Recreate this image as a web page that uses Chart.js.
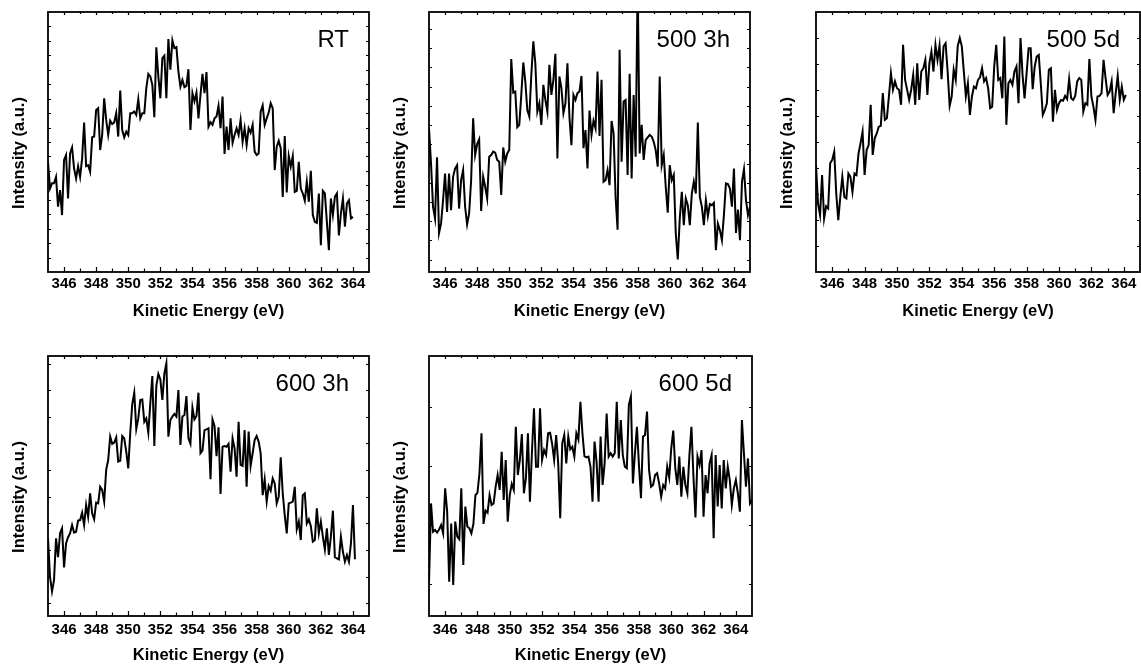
<!DOCTYPE html>
<html>
<head>
<meta charset="utf-8">
<script src="https://cdn.jsdelivr.net/npm/chart.js@4.4.0/dist/chart.umd.min.js"></script>
<style>
  html, body { margin: 0; padding: 0; background: #fff; }
  body { position: relative; width: 1141px; height: 671px; overflow: hidden; }
  canvas { position: absolute; }
</style>
</head>
<body>
<script>
// Kinetic energy grid (eV), common to all spectra
const energy = [
  345, 345.125, 345.25, 345.375, 345.5, 345.625, 345.75, 345.875,
  346, 346.125, 346.25, 346.375, 346.5, 346.625, 346.75, 346.875,
  347, 347.125, 347.25, 347.375, 347.5, 347.625, 347.75, 347.875,
  348, 348.125, 348.25, 348.375, 348.5, 348.625, 348.75, 348.875,
  349, 349.125, 349.25, 349.375, 349.5, 349.625, 349.75, 349.875,
  350, 350.125, 350.25, 350.375, 350.5, 350.625, 350.75, 350.875,
  351, 351.125, 351.25, 351.375, 351.5, 351.625, 351.75, 351.875,
  352, 352.125, 352.25, 352.375, 352.5, 352.625, 352.75, 352.875,
  353, 353.125, 353.25, 353.375, 353.5, 353.625, 353.75, 353.875,
  354, 354.125, 354.25, 354.375, 354.5, 354.625, 354.75, 354.875,
  355, 355.125, 355.25, 355.375, 355.5, 355.625, 355.75, 355.875,
  356, 356.125, 356.25, 356.375, 356.5, 356.625, 356.75, 356.875,
  357, 357.125, 357.25, 357.375, 357.5, 357.625, 357.75, 357.875,
  358, 358.125, 358.25, 358.375, 358.5, 358.625, 358.75, 358.875,
  359, 359.125, 359.25, 359.375, 359.5, 359.625, 359.75, 359.875,
  360, 360.125, 360.25, 360.375, 360.5, 360.625, 360.75, 360.875,
  361, 361.125, 361.25, 361.375, 361.5, 361.625, 361.75, 361.875,
  362, 362.125, 362.25, 362.375, 362.5, 362.625, 362.75, 362.875,
  363, 363.125, 363.25, 363.375, 363.5, 363.625, 363.75, 363.875,
  364, 364.125, 364.25, 364.375, 364.5, 364.625, 364.75, 364.875,
  365
];

// labelled ticks on the energy axis
const xTickLabels = [346, 348, 350, 352, 354, 356, 358, 360, 362, 364];

// intensities (a.u., 0 = bottom of frame, 100 = top)
const intensityRT = [
  42.4, 32.1, 34.1, 34.1, 36.6, 25.1, 31.5, 21.9, 43.1, 45.0,
  28.3, 45.6, 47.9, 39.8, 36.0, 40.7, 36.6, 43.7, 57.5, 40.7,
  41.1, 38.6, 51.8, 52.1, 62.3, 63.0, 46.9, 52.7, 66.8, 58.5,
  52.7, 58.2, 56.9, 57.5, 61.1, 52.1, 69.8, 54.6, 51.8, 54.0,
  52.7, 61.1, 61.1, 61.7, 60.4, 66.5, 59.1, 61.1, 61.1, 70.7,
  76.2, 75.2, 72.0, 59.5, 86.4, 75.2, 66.8, 82.3, 83.2, 66.8,
  89.6, 77.8, 89.1, 86.1, 86.5, 77.1, 71.3, 73.9, 71.1, 71.6,
  78.0, 54.6, 68.8, 65.6, 69.0, 59.1, 68.1, 76.2, 68.8, 76.9,
  55.9, 57.6, 56.6, 59.1, 59.8, 63.9, 55.3, 67.5, 45.4, 55.9,
  46.9, 59.1, 49.7, 52.7, 55.3, 52.7, 58.5, 50.1, 55.3, 48.8,
  55.3, 53.6, 56.6, 46.3, 45.0, 45.6, 61.7, 64.1, 56.6, 59.1,
  61.3, 64.9, 63.0, 39.2, 48.2, 50.5, 47.6, 28.9, 52.3, 30.6,
  44.6, 40.5, 44.6, 30.8, 31.2, 42.4, 32.1, 30.2, 27.4, 34.7,
  27.0, 38.9, 21.9, 19.3, 18.9, 30.2, 10.3, 31.2, 30.2, 19.3,
  8.4, 28.3, 21.9, 28.9, 30.2, 14.1, 22.5, 28.3, 17.4, 26.3,
  27.6, 20.6, 21.2
];

const intensity500_3h = [
  55.3, 41.8, 25.1, 20.6, 44.1, 15.0, 18.6, 27.6, 37.9, 23.1,
  37.9, 23.8, 36.6, 39.8, 41.1, 24.4, 35.3, 39.2, 25.1, 18.3,
  22.5, 35.3, 59.1, 45.0, 49.2, 51.0, 23.5, 36.6, 32.8, 28.3,
  44.3, 45.0, 46.3, 45.9, 43.1, 42.4, 29.6, 47.9, 42.4, 45.6,
  46.9, 81.9, 69.0, 69.4, 55.7, 56.6, 68.1, 80.6, 73.3, 62.3,
  59.8, 75.8, 88.7, 80.3, 61.7, 64.9, 56.6, 72.0, 66.2, 61.7,
  79.7, 68.1, 73.9, 83.9, 43.7, 75.2, 70.7, 61.1, 64.9, 80.3,
  59.5, 48.8, 68.1, 66.2, 68.8, 69.4, 75.4, 47.6, 54.6, 39.8,
  62.1, 52.7, 58.2, 55.3, 77.1, 52.3, 73.9, 34.7, 35.3, 39.2,
  33.4, 58.1, 53.3, 28.9, 16.3, 85.5, 42.4, 65.6, 66.2, 37.3,
  76.2, 36.0, 68.1, 44.3, 112, 45.6, 56.6, 43.1, 50.8, 51.8,
  52.7, 52.1, 50.1, 46.9, 40.5, 75.2, 41.1, 45.0, 32.8, 22.8,
  41.1, 35.3, 37.3, 14.8, 4.8, 20.6, 30.8, 18.0, 28.3, 25.7,
  18.0, 30.2, 34.7, 30.2, 57.5, 28.9, 25.1, 18.0, 27.6, 21.5,
  26.1, 25.7, 26.6, 8.4, 18.6, 16.1, 12.2, 21.9, 34.1, 33.8,
  32.1, 25.1, 39.8, 15.0, 24.0, 12.2, 34.7, 39.5, 27.6, 21.9,
  25.1
];

const intensity500_5d = [
  41.1, 26.3, 21.9, 37.3, 20.6, 25.3, 24.4, 41.8, 43.1, 46.3,
  30.2, 19.9, 28.9, 36.6, 28.9, 28.3, 37.9, 36.6, 30.8, 37.9,
  37.3, 45.6, 49.5, 54.0, 37.3, 46.9, 48.8, 64.3, 45.0, 51.4,
  53.3, 55.9, 56.2, 68.8, 58.5, 59.1, 67.5, 76.5, 70.1, 73.3,
  70.7, 70.1, 64.3, 87.4, 73.9, 70.1, 66.2, 70.1, 75.8, 64.3,
  80.3, 66.2, 77.1, 78.4, 81.6, 68.1, 80.3, 84.8, 77.1, 87.4,
  81.6, 87.1, 74.2, 86.8, 88.0, 77.1, 63.9, 67.5, 77.8, 73.9,
  87.0, 90.0, 86.8, 77.1, 67.5, 72.6, 60.4, 67.5, 71.3, 70.7,
  73.9, 74.9, 78.4, 73.3, 74.6, 70.7, 63.0, 63.6, 79.0, 87.4,
  73.9, 74.6, 66.8, 90.6, 56.6, 72.6, 73.9, 72.0, 77.1, 79.0,
  64.9, 90.0, 75.8, 66.8, 76.5, 86.1, 86.1, 70.3, 79.0, 82.9,
  83.5, 72.6, 60.4, 62.3, 64.9, 77.8, 78.4, 57.8, 70.1, 62.3,
  64.9, 66.2, 65.9, 67.7, 66.5, 74.2, 66.8, 66.2, 67.7, 73.3,
  74.6, 73.9, 61.7, 64.9, 64.3, 81.9, 67.5, 63.6, 58.5, 67.5,
  67.7, 68.8, 81.6, 74.6, 68.1, 69.4, 73.3, 61.1, 68.8, 75.4,
  66.2, 71.3, 66.2, 68.1
];

const intensity600_3h = [
  29.9, 15.1, 9.4, 13.8, 29.9, 22.6, 31.8, 33.7, 18.7, 27.9,
  30.3, 31.8, 35.0, 32.1, 32.4, 36.7, 36.9, 39.7, 35.0, 42.7,
  38.2, 47.2, 39.5, 37.2, 43.6, 43.3, 49.7, 48.5, 44.0, 56.2,
  60.0, 69.0, 66.2, 66.7, 68.7, 59.4, 59.7, 69.2, 68.3, 63.2,
  56.8, 70.5, 81.5, 85.9, 71.9, 76.0, 83.1, 83.3, 74.7, 76.0,
  70.5, 81.8, 92.3, 65.4, 88.5, 93.1, 91.0, 83.1, 93.3, 97.2,
  69.0, 75.4, 76.7, 77.7, 76.7, 86.9, 65.8, 76.7, 77.3, 84.6,
  68.3, 66.2, 80.1, 75.6, 76.9, 85.9, 62.6, 63.6, 71.5, 71.8,
  72.2, 52.6, 75.6, 73.1, 61.5, 72.6, 46.9, 65.1, 65.4, 65.1,
  66.2, 55.5, 68.3, 64.5, 53.6, 74.7, 58.1, 57.7, 71.5, 49.7,
  70.9, 57.7, 62.6, 67.7, 69.2, 67.1, 62.6, 46.5, 52.6, 44.0,
  50.0, 48.2, 52.9, 51.0, 43.3, 45.9, 61.0, 47.2, 38.8, 31.8,
  43.3, 43.6, 44.0, 49.7, 33.3, 36.3, 29.2, 46.5, 47.2, 35.6,
  37.2, 34.6, 28.6, 29.2, 41.4, 31.8, 36.3, 30.5, 25.6, 33.7,
  23.5, 30.5, 40.5, 22.6, 22.2, 21.8, 30.5, 24.7, 20.9, 23.5,
  20.9, 27.9, 42.7, 21.8
];

const intensity600_5d = [
  12.6, 43.3, 32.4, 33.1, 32.1, 33.3, 35.0, 31.8, 49.1, 40.1,
  13.2, 35.6, 11.9, 36.3, 30.5, 29.5, 49.1, 19.6, 42.1, 34.4,
  33.7, 31.8, 35.4, 46.5, 47.4, 54.9, 70.3, 35.4, 40.5, 39.7,
  46.5, 42.7, 43.3, 49.7, 54.2, 48.5, 63.2, 44.6, 60.0, 36.3,
  46.5, 50.8, 48.5, 72.8, 54.2, 60.0, 70.0, 47.2, 52.9, 70.3,
  44.0, 63.2, 79.9, 57.4, 57.4, 79.9, 60.0, 63.8, 61.9, 70.3,
  70.5, 66.2, 60.0, 69.6, 58.7, 37.6, 66.4, 69.6, 58.7, 69.0,
  64.1, 65.1, 61.3, 70.3, 67.9, 82.4, 70.3, 61.5, 61.0, 61.3,
  57.4, 44.0, 67.1, 59.4, 44.0, 69.0, 50.4, 58.7, 77.9, 61.3,
  62.6, 61.3, 62.6, 82.4, 60.6, 75.4, 61.9, 57.4, 56.8, 81.2,
  84.4, 51.0, 62.6, 72.8, 58.1, 45.3, 69.0, 69.6, 78.6, 56.2,
  49.7, 50.4, 54.2, 54.9, 51.0, 45.9, 50.4, 49.1, 57.4, 53.3,
  64.5, 71.3, 56.8, 50.4, 61.3, 45.9, 57.4, 50.4, 47.2, 61.9,
  72.8, 53.6, 37.9, 61.3, 58.1, 63.8, 38.2, 54.2, 47.2, 58.7,
  61.9, 29.9, 61.9, 42.1, 58.1, 41.4, 60.0, 49.1, 57.4, 52.3,
  42.7, 49.1, 52.3, 47.2, 40.1, 75.4, 62.6, 49.7, 60.6, 43.3,
  44.6
];

// where each plot frame sits on the page, and its unlabelled y tick spacing
const panels = [
  { label: 'RT',     data: intensityRT,     frame: [48, 12, 369, 272],   labelPad: 2.5, yTickStart: 5.556, yTickStep: 5.556 },
  { label: '500 3h', data: intensity500_3h, frame: [429, 12, 750, 272],  labelPad: 2.5, yTickStart: 4.76,  yTickStep: 7.39 },
  { label: '500 5d', data: intensity500_5d, frame: [816, 12, 1140, 272], labelPad: 2.5, yTickStart: 10,    yTickStep: 10 },
  { label: '600 3h', data: intensity600_3h, frame: [48, 356, 369, 616],  labelPad: 5,   yTickStart: 4.88,  yTickStep: 10.245 },
  { label: '600 5d', data: intensity600_5d, frame: [429, 356, 752, 616], labelPad: 5,   yTickStart: 12.18, yTickStep: 22.74 }
];

const FONT = '"Liberation Sans", Arial, Helvetica, sans-serif';
const Y_AXIS_W = 48, X_AXIS_H = 62, PAD_TOP = 12, PAD_RIGHT = 12;

// frame, inward ticks on all four sides, y title and the sample label
const framePlugin = {
  id: 'frame',
  afterDatasetsDraw(chart, args, opts) {
    const { ctx, chartArea: a, scales: { x, y } } = chart;
    ctx.save();
    ctx.strokeStyle = '#000';
    ctx.lineWidth = 1.2;
    ctx.beginPath();
    x.ticks.forEach(t => {
      if (t.value <= x.min || t.value >= x.max) return;
      const px = Math.round(x.getPixelForValue(t.value)) + 0.5;
      const major = xTickLabels.includes(t.value);
      ctx.moveTo(px, a.bottom); ctx.lineTo(px, a.bottom - (major ? 5 : 3.5));
      ctx.moveTo(px, a.top); ctx.lineTo(px, a.top + (major ? 3 : 2));
    });
    y.ticks.forEach(t => {
      const py = Math.round(y.getPixelForValue(t.value)) + 0.5;
      ctx.moveTo(a.left, py); ctx.lineTo(a.left + 3, py);
      ctx.moveTo(a.right, py); ctx.lineTo(a.right - 3, py);
    });
    ctx.stroke();
    ctx.lineWidth = 1.8;
    ctx.strokeRect(a.left, a.top, a.right - a.left, a.bottom - a.top);

    ctx.fillStyle = '#000';
    ctx.font = 'bold 16.5px ' + FONT;
    ctx.textAlign = 'center';
    ctx.textBaseline = 'middle';
    ctx.save();
    ctx.translate(a.left - 28.5, (a.top + a.bottom) / 2 + 11);
    ctx.rotate(-Math.PI / 2);
    ctx.fillText('Intensity (a.u.)', 0, 0);
    ctx.restore();

    ctx.font = '24px ' + FONT;
    ctx.textAlign = 'right';
    ctx.fillText(opts.text, a.right - 20, a.top + 28.5);
    ctx.restore();
  }
};

panels.forEach(p => {
  const [l, t, r, b] = p.frame;
  const canvas = document.createElement('canvas');
  canvas.width = (r - l) + Y_AXIS_W + PAD_RIGHT;
  canvas.height = (b - t) + PAD_TOP + X_AXIS_H;
  canvas.style.left = (l - Y_AXIS_W) + 'px';
  canvas.style.top = (t - PAD_TOP) + 'px';
  document.body.appendChild(canvas);

  new Chart(canvas, {
    type: 'line',
    data: {
      datasets: [{
        data: p.data.map((v, i) => ({ x: energy[i], y: v })),
        borderColor: '#000',
        borderWidth: 2,
        pointRadius: 0,
        tension: 0,
        fill: false
      }]
    },
    options: {
      responsive: false,
      animation: false,
      devicePixelRatio: 1,
      layout: { padding: { top: PAD_TOP, right: PAD_RIGHT, left: 0, bottom: 0 } },
      plugins: {
        legend: { display: false },
        tooltip: { enabled: false },
        frame: { text: p.label }
      },
      scales: {
        x: {
          type: 'linear',
          min: 345,
          max: 365,
          grid: { display: false, drawTicks: false },
          border: { display: false },
          ticks: {
            stepSize: 1,
            autoSkip: false,
            maxRotation: 0,
            minRotation: 0,
            padding: p.labelPad,
            color: '#000',
            font: { family: FONT, size: 15, weight: 'bold' },
            callback: v => xTickLabels.includes(v) ? String(v) : ''
          },
          title: {
            display: true,
            text: 'Kinetic Energy (eV)',
            color: '#000',
            font: { family: FONT, size: 16.5, weight: 'bold' },
            padding: { top: 0, bottom: 13 }
          },
          afterFit: s => { s.height = X_AXIS_H; }
        },
        y: {
          min: 0,
          max: 100,
          grid: { display: false, drawTicks: false },
          border: { display: false },
          ticks: { display: false },
          afterBuildTicks: s => {
            const ticks = [];
            for (let v = p.yTickStart; v < 100; v += p.yTickStep) ticks.push({ value: v });
            s.ticks = ticks;
          },
          afterFit: s => { s.width = Y_AXIS_W; }
        }
      }
    },
    plugins: [framePlugin]
  });
});
</script>
</body>
</html>
